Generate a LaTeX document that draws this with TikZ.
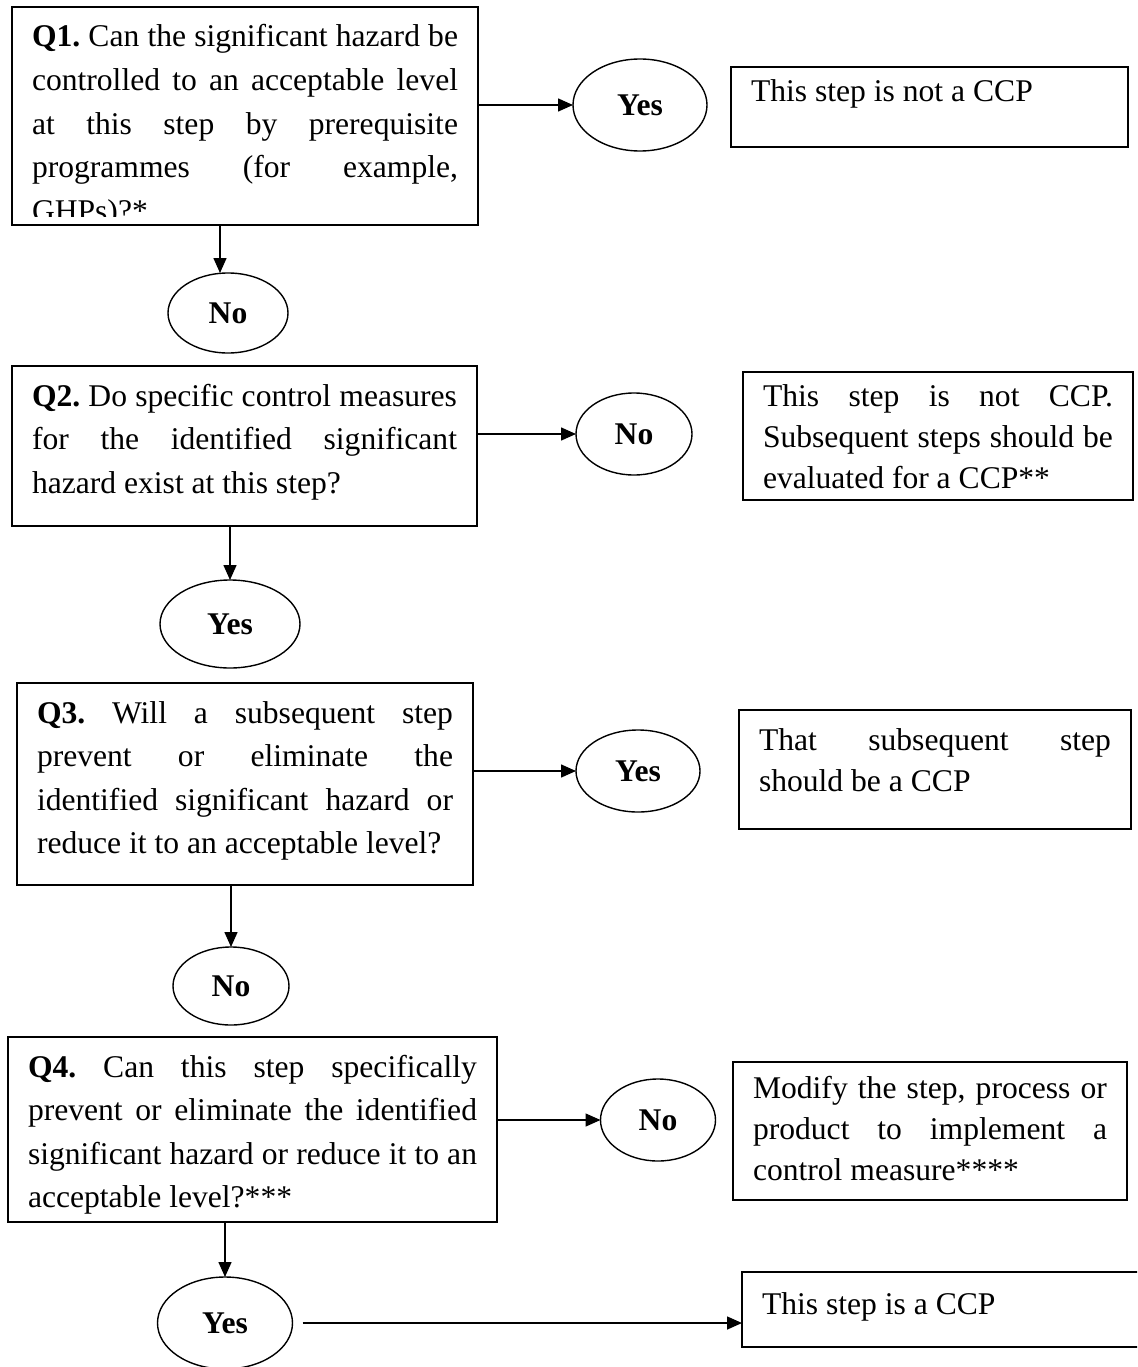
\documentclass[tikz,border=0pt]{standalone}
\usepackage{fontspec}
\setmainfont{Liberation Serif}
\usetikzlibrary{shapes.geometric,arrows.meta}
\newcommand\JLine[1]{\makebox[\hsize][s]{#1}}
\begin{document}
\begin{tikzpicture}[x=1pt,y=-1pt,
 every node/.style={outer sep=0pt},
 frame/.style={draw, line width=1.6pt, rectangle, anchor=north west, inner sep=0pt},
 qtxt/.style={rectangle, anchor=north west, inner xsep=20pt, inner ysep=0pt, align=justify,
   font=\fontsize{31.6}{43.6}\selectfont\frenchspacing, text height=40pt},
 rtxt/.style={draw, line width=1.6pt, rectangle, anchor=north west, inner xsep=20pt, inner ysep=0pt,
   align=justify, font=\fontsize{31.6}{41}\selectfont\frenchspacing},
 oval/.style={draw, ellipse, line width=1.4pt, inner sep=0pt, font=\fontsize{31.6}{38}\selectfont\bfseries},
 arr/.style={line width=1.5pt, -{Triangle[length=15pt,width=13pt]}}
]
\useasboundingbox (0,0) rectangle (1137,1367);
\fill[white] (0,0) rectangle (1137,1367);
\clip (0,0) rectangle (1137,1367);

% Q1 (text clipped at the bottom)
\begin{scope}
\clip (12,7) rectangle (478,216);
\node[qtxt, text width=426pt, text depth=178pt] (q1text) at (12,7) {%
\JLine{\textbf{Q1.} Can the significant hazard be}\\
\JLine{controlled to an acceptable level}\\
\JLine{at this step by prerequisite}\\
\JLine{programmes (for example,}\\
GHPs)?*};
\end{scope}
\node[frame, minimum width=466pt, minimum height=218pt] (q1) at (12,7) {};

\node[oval, minimum width=134pt, minimum height=92pt] (yes1) at (640,105) {Yes};
\node[rtxt, text width=357pt, text height=35pt, text depth=45pt] (b1) at (731,67) {This step is not a CCP};
\node[oval, minimum width=120pt, minimum height=80pt] (no1) at (228,313) {No};

% Q2
\node[qtxt, draw, line width=1.6pt, text width=425pt, text depth=120pt] (q2) at (12,366) {%
\JLine{\textbf{Q2.} Do specific control measures}\\
\JLine{for the identified significant}\\
hazard exist at this step?};
\node[oval, minimum width=116pt, minimum height=82pt] (no2) at (634,434) {No};
\node[rtxt, text width=350pt, text height=34pt, text depth=94pt] (b2) at (743,372) {%
\JLine{This step is not CCP.}\\
\JLine{Subsequent steps should be}\\
evaluated for a CCP**};
\node[oval, minimum width=140pt, minimum height=88pt] (yes2) at (230,624) {Yes};

% Q3
\node[qtxt, draw, line width=1.6pt, text width=416pt, text depth=162pt] (q3) at (17,683) {%
\JLine{\textbf{Q3.} Will a subsequent step}\\
\JLine{prevent or eliminate the}\\
\JLine{identified significant hazard or}\\
reduce it to an acceptable level?};
\node[oval, minimum width=124pt, minimum height=82pt] (yes3) at (638,771) {Yes};
\node[rtxt, text width=352pt, text height=40pt, text depth=79pt] (b3) at (739,710) {%
\JLine{That subsequent step}\\
should be a CCP};
\node[oval, minimum width=116pt, minimum height=78pt] (no3) at (231,986) {No};

% Q4
\node[qtxt, draw, line width=1.6pt, text width=449pt, text depth=145pt] (q4) at (8,1037) {%
\JLine{\textbf{Q4.} Can this step specifically}\\
\JLine{prevent or eliminate the identified}\\
\JLine{significant hazard or reduce it to an}\\
acceptable level?***};
\node[oval, minimum width=115pt, minimum height=82pt] (no4) at (658,1120) {No};
\node[rtxt, text width=354pt, text height=36pt, text depth=102pt] (b4) at (733,1062) {%
\JLine{Modify the step, process or}\\
\JLine{product to implement a}\\
control measure****};
\node[oval, minimum width=135pt, minimum height=92pt] (yes4) at (225,1323) {Yes};
\node[rtxt, text width=370pt, text height=42pt, text depth=33pt] (b5) at (742,1272) {This step is a CCP};

% connectors
\draw[arr] (q1.east |- yes1.west) -- (yes1.west);
\draw[arr] ([xshift=-8pt]q1.south -| no1.north) -- ([xshift=-8pt]no1.north);
\draw[arr] (q2.east |- no2.west) -- (no2.west);
\draw[arr] (q2.south -| yes2.north) -- (yes2.north);
\draw[arr] (q3.east |- yes3.west) -- (yes3.west);
\draw[arr] (q3.south -| no3.north) -- (no3.north);
\draw[arr] (q4.east |- no4.west) -- (no4.west);
\draw[arr] (q4.south -| yes4.north) -- (yes4.north);
\draw[arr, shorten <=10pt] (yes4.east) -- (b5.west |- yes4.east);
\end{tikzpicture}
\end{document}
